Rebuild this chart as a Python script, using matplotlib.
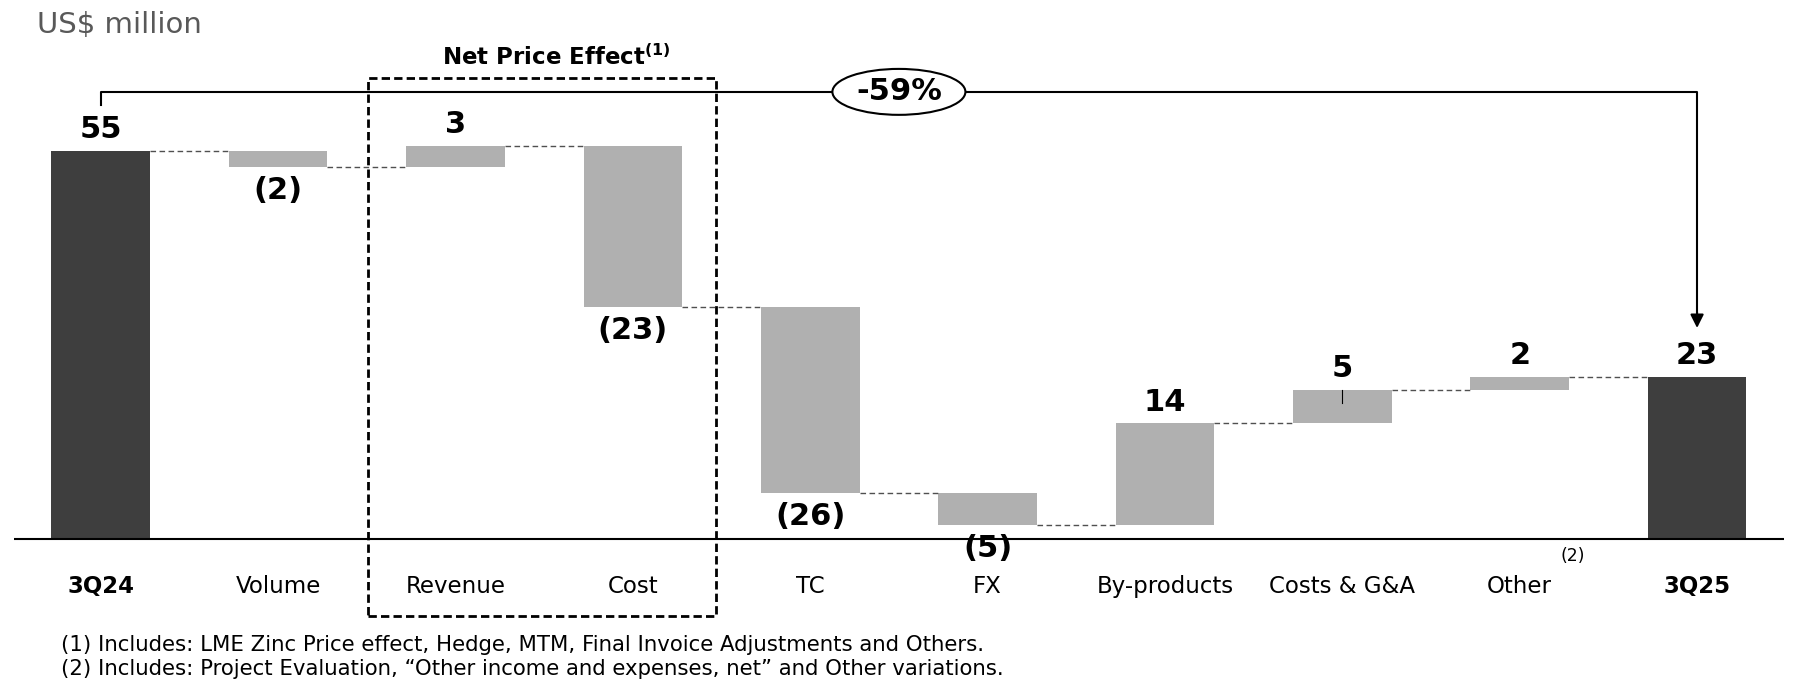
import matplotlib.pyplot as plt
from matplotlib.patches import Ellipse, Rectangle
import numpy as np

# data
categories = ["3Q24", "Volume", "Revenue", "Cost", "TC", "FX",
              "By-products", "Costs & G&A", "Other", "3Q25"]
start_value = 55.0
deltas = [-2.4, 3.1, -22.9, -26.3, -4.5, 14.4, 4.7, 1.9]
end_value = 23.0
value_labels = ["55", "(2)", "3", "(23)", "(26)", "(5)", "14", "5", "2", "23"]
change_label = "-59%"
footnotes = ["(1) Includes: LME Zinc Price effect, Hedge, MTM, Final Invoice Adjustments and Others.",
             "(2) Includes: Project Evaluation, \u201cOther income and expenses, net\u201d and Other variations."]

dark = "#3e3e3e"
light = "#b0b0b0"
plt.rcParams['font.family'] = ['DejaVu Sans']

fig = plt.figure(figsize=(17.98, 6.94), dpi=100)
ax = fig.add_axes([0.0077, 0, 0.9845, 1])
ax.set_xlim(-0.49, 9.49)
ax.set_ylim(-21.9, 76.3)
ax.axis("off")

w = 0.556
x = np.arange(len(categories))

# running levels
levels = [start_value]
for d in deltas:
    levels.append(levels[-1] + d)

# totals
ax.bar(x[0], start_value, width=w, color=dark)
ax.bar(x[-1], end_value, width=w, color=dark)

# deltas
for i, d in enumerate(deltas):
    bottom = levels[i] if d > 0 else levels[i] + d
    ax.bar(x[i + 1], abs(d), bottom=bottom, width=w, color=light)

# connectors
conn = [start_value] + levels[1:]
for i in range(len(categories) - 1):
    ax.plot([x[i] + w / 2, x[i + 1] - w / 2], [conn[i], conn[i]],
            color="#505050", lw=1, ls=(0, (4, 2.5)))

# value labels
tops = [start_value] + [max(levels[i], levels[i + 1]) for i in range(len(deltas))] + [end_value]
bots = [0] + [min(levels[i], levels[i + 1]) for i in range(len(deltas))] + [0]
signs = [1] + [np.sign(d) for d in deltas] + [1]
for i, lab in enumerate(value_labels):
    if signs[i] > 0:
        y = tops[i] + 3.0
    else:
        y = bots[i] - 3.3
    ax.text(x[i], y, lab, ha="center", va="center", fontsize=22, fontweight="bold", color="black")

# leader line on Costs & G&A label
ax.plot([x[7], x[7]], [tops[7], tops[7] - 1.8], color="black", lw=0.8)

# axis line
ax.axhline(0, color="black", lw=1.5)

# category labels
for i, c in enumerate(categories):
    bold = i in (0, len(categories) - 1)
    ax.text(x[i], -6.65, c, ha="center", va="center", fontsize=16.5,
            fontweight="bold" if bold else "normal", color="black")
ax.text(8.3, -2.4, "(2)", ha="center", va="center", fontsize=12.5, color="black")

# Net Price Effect box
box = Rectangle((1.507, -10.9), 3.47 - 1.507, 65.3 + 10.9, fill=False,
                ls=(0, (3, 1.5)), lw=2, ec="black", clip_on=False)
ax.add_patch(box)
ax.text(2.57, 68.2, "Net Price Effect$^{\\mathbf{(1)}}$", ha="center", va="center",
        fontsize=16.5, fontweight="bold")

# -59% bracket
yb = 63.3
ax.plot([x[0], x[0], x[-1], x[-1]], [61.4, yb, yb, 31.5], color="black", lw=1.5)
ax.annotate("", xy=(x[-1], 29.5), xytext=(x[-1], 32.5),
            arrowprops=dict(arrowstyle="-|>", color="black", lw=1.5, mutation_scale=20))
ell = Ellipse((4.5, yb), 0.75, 6.5, facecolor="white", edgecolor="black", lw=1.5, zorder=3)
ax.add_patch(ell)
ax.text(4.5, yb, change_label, ha="center", va="center", fontsize=22, fontweight="bold", zorder=4)

# header and footnotes
fig.text(0.0204, 0.9636, "US$ million", ha="left", va="center", fontsize=21, color="#595959")
fig.text(0.0338, 0.0711, footnotes[0], ha="left", va="center", fontsize=15.3)
fig.text(0.0338, 0.0365, footnotes[1], ha="left", va="center", fontsize=15.3)

fig.savefig("out.png", dpi=100)
